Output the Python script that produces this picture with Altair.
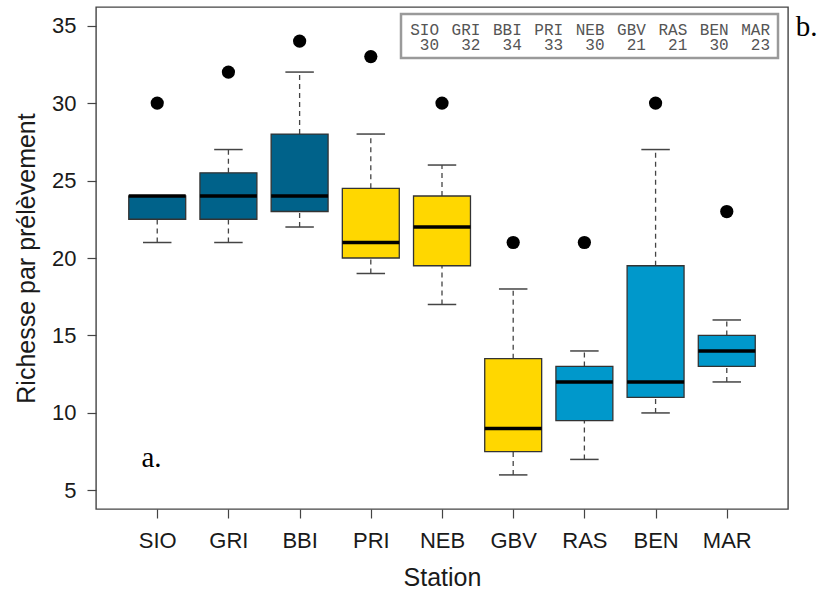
import altair as alt
import pandas as pd

# Species richness per sample, by station
stations = ["SIO", "GRI", "BBI", "PRI", "NEB", "GBV", "RAS", "BEN", "MAR"]
whisker_low = [21, 21, 22, 19, 17, 6, 7, 10, 12]
q1 = [22.5, 22.5, 23, 20, 19.5, 7.5, 9.5, 11, 13]
median = [24, 24, 24, 21, 22, 9, 12, 12, 14]
q3 = [24, 25.5, 28, 24.5, 24, 13.5, 13, 19.5, 15]
whisker_high = [24, 27, 32, 28, 26, 18, 14, 27, 16]
# total richness per station (black dots and the summary box)
total = [30, 32, 34, 33, 30, 21, 21, 30, 23]
group = ["g1", "g1", "g1", "g2", "g2", "g2", "g3", "g3", "g3"]

group_colors = {"g1": "#00628a", "g2": "#ffd700", "g3": "#0098cb"}

df = pd.DataFrame({
    "station": stations,
    "pos": list(range(1, len(stations) + 1)),
    "col": list(range(len(stations))),
    "lo": whisker_low,
    "q1": q1,
    "med": median,
    "q3": q3,
    "hi": whisker_high,
    "total": total,
    "group": group,
})

x_scale = alt.Scale(domain=[0.14, 9.86], nice=False, zero=False)
y_scale = alt.Scale(domain=[3.8, 36.2], nice=False, zero=False)

label_expr = "[" + ",".join(f"'{s}'" for s in stations) + "][datum.value - 1]"

text_color = "#1a1a1a"
x_axis = alt.Axis(
    values=list(range(1, len(stations) + 1)), labelExpr=label_expr,
    title="Station", grid=False, domain=False,
    tickSize=9, tickColor="#444", tickWidth=1.2,
    labelFont="Liberation Sans", labelFontSize=22, labelColor=text_color,
    labelPadding=12, titleFont="Liberation Sans", titleFontSize=25,
    titleFontWeight="normal", titleColor=text_color, titlePadding=14,
)
y_axis = alt.Axis(
    values=[5, 10, 15, 20, 25, 30, 35], title="Richesse par prélèvement",
    grid=False, domain=False,
    tickSize=9, tickColor="#444", tickWidth=1.2,
    labelFont="Liberation Sans", labelFontSize=22, labelColor=text_color,
    labelPadding=11, titleFont="Liberation Sans", titleFontSize=25,
    titleFontWeight="normal", titleColor=text_color, titlePadding=12,
)

base = alt.Chart(df).transform_calculate(
    xl="datum.pos - 0.4", xr="datum.pos + 0.4",
    cl="datum.pos - 0.2", cr="datum.pos + 0.2",
)

whisk_lo = base.mark_rule(color="#444", strokeWidth=1.3, strokeDash=[5, 4]).encode(
    x=alt.X("pos:Q", scale=x_scale, axis=x_axis),
    y=alt.Y("lo:Q", scale=y_scale, axis=y_axis),
    y2="q1:Q",
)
whisk_hi = base.mark_rule(color="#444", strokeWidth=1.3, strokeDash=[5, 4]).encode(
    x="pos:Q", y="q3:Q", y2="hi:Q",
)
cap_lo = base.mark_rule(color="#444", strokeWidth=1.5).encode(
    x="cl:Q", x2="cr:Q", y="lo:Q",
)
cap_hi = base.mark_rule(color="#444", strokeWidth=1.5).encode(
    x="cl:Q", x2="cr:Q", y="hi:Q",
)
boxes = base.mark_rect(stroke="#333", strokeWidth=1.3).encode(
    x="xl:Q", x2="xr:Q", y="q1:Q", y2="q3:Q",
    color=alt.Color("group:N", legend=None, scale=alt.Scale(
        domain=list(group_colors.keys()), range=list(group_colors.values()))),
)
medians = base.mark_rule(color="black", strokeWidth=3.5).encode(
    x="xl:Q", x2="xr:Q", y="med:Q",
)
dots = base.mark_circle(size=175, color="black", opacity=1).encode(
    x="pos:Q", y="total:Q",
)

# panel letters
letters = pd.DataFrame({"lx": [0.92, 10.12], "ly": [6.5, 34.3], "txt": ["a.", "b."]})
letter_marks = alt.Chart(letters).mark_text(
    font="Liberation Serif", fontSize=29, color="black",
    align="center", baseline="alphabetic", clip=False,
).encode(x="lx:Q", y="ly:Q", text="txt:N")

boxplot = alt.layer(whisk_lo, whisk_hi, cap_lo, cap_hi, boxes, medians, dots,
                    letter_marks)

# summary box listing total richness per station (right-aligned columns)
frame = alt.Chart(pd.DataFrame({"k": [0]})).mark_rect(
    fill="white", stroke="#9a9a9a", strokeWidth=2.5,
).encode(x=alt.value(305), x2=alt.value(682), y=alt.value(7), y2=alt.value(51))

col_x = alt.X("col:Q", scale=alt.Scale(domain=[0, 8], range=[343, 674]), axis=None)
summary_style = dict(font="Liberation Mono", fontSize=16, color="#555",
                     align="right", baseline="alphabetic")
names_row = alt.Chart(df).mark_text(**summary_style).encode(
    x=col_x, y=alt.value(28), text="station:N")
totals_row = alt.Chart(df).mark_text(**summary_style).encode(
    x=col_x, y=alt.value(43), text="total:Q")
summary = alt.layer(frame, names_row, totals_row)

chart = alt.layer(boxplot, summary).resolve_scale(
    x="independent",
).properties(
    width=692, height=502,
    autosize=alt.AutoSizeParams(type="none"),
    padding={"left": 96, "top": 7, "right": 31, "bottom": 81},
    background="white",
).configure_view(
    stroke="#444", strokeWidth=1.4,
)

chart.save("out.html", embed_options={"renderer": "svg", "actions": False})
